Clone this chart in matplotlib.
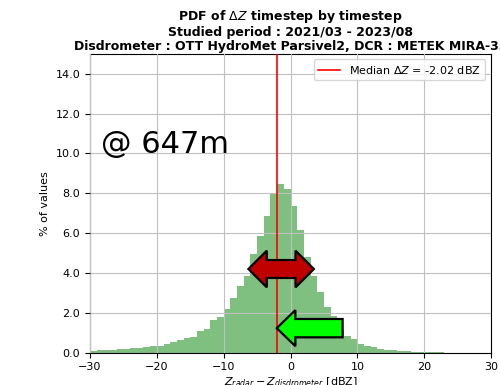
import numpy as np
import matplotlib.pyplot as plt
import matplotlib.patches as mpatches

# histogram of delta Z, 1 dBZ bins from -30 to 30 (% of values)
bin_edges = np.arange(-30, 31, 1)
pct_values = [0.10, 0.11, 0.12, 0.14, 0.16, 0.18, 0.21, 0.25, 0.28, 0.31,
              0.35, 0.42, 0.52, 0.64, 0.75, 0.80, 1.10, 1.17, 1.64, 1.80,
              2.20, 2.73, 3.36, 3.83, 4.96, 5.87, 6.85, 7.98, 8.45, 8.23,
              7.34, 6.15, 4.82, 3.84, 3.03, 2.30, 1.83, 1.16, 0.85, 0.68,
              0.44, 0.34, 0.26, 0.19, 0.15, 0.11, 0.08, 0.06, 0.04, 0.03,
              0.02, 0.01, 0.01, 0.005, 0.0, 0.0, 0.0, 0.0, 0.0, 0.0]
median_dz = -2.02
altitude = '@ 647m'
title = ('PDF of $\\Delta Z$ timestep by timestep\n'
         'Studied period : 2021/03 - 2023/08\n'
         'Disdrometer : OTT HydroMet Parsivel2, DCR : METEK MIRA-35')


def double_arrow(x0, x1, y, shaft_h, head_h, head_l):
    # polygon of a horizontal double headed arrow
    pts = [(x0, y), (x0 + head_l, y + head_h), (x0 + head_l, y + shaft_h),
           (x1 - head_l, y + shaft_h), (x1 - head_l, y + head_h), (x1, y),
           (x1 - head_l, y - head_h), (x1 - head_l, y - shaft_h),
           (x0 + head_l, y - shaft_h), (x0 + head_l, y - head_h)]
    return pts


fig = plt.figure(figsize=(5, 3.85), dpi=100)
ax = fig.add_axes([0.18, 0.084, 0.802, 0.776])

ax.hist(bin_edges[:-1], bins=bin_edges, weights=pct_values,
        color='green', alpha=0.5, zorder=2)
ax.axvline(median_dz, color='red', lw=1.2, zorder=3,
           label='Median $\\Delta Z$ = {:.2f} dBZ'.format(median_dz))

# spread arrow and bias arrow
ax.add_patch(mpatches.Polygon(double_arrow(-6.3, 3.5, 4.2, 0.45, 0.92, 2.75),
                              closed=True, facecolor='#c00000',
                              edgecolor='black', lw=1.6, zorder=5))
ax.add_patch(mpatches.FancyArrow(7.8, 1.23, -9.85, 0, width=0.92,
                                 head_width=1.81, head_length=2.78,
                                 length_includes_head=True,
                                 facecolor='#00ff00', edgecolor='black',
                                 lw=1.6, zorder=5))

ax.text(-28.4, 10.0, altitude, fontsize=22)

ax.set_xlim(-30, 30)
ax.set_ylim(0, 15)
ax.set_xticks(np.arange(-30, 31, 10))
ax.set_yticks(np.arange(0, 15, 2))
ax.set_yticklabels(['{:.1f}'.format(v) for v in np.arange(0, 15, 2)])
ax.tick_params(labelsize=8)
ax.grid(True, color='#c0c0c0', lw=0.8, zorder=1)
ax.set_axisbelow(False)
ax.set_ylabel('% of values', fontsize=8)
ax.set_xlabel('$Z_{radar} - Z_{disdrometer}$ [dBZ]', fontsize=8, labelpad=2)
ax.set_title(title, fontsize=9, fontweight='bold', linespacing=1.1, pad=3)
ax.legend(loc='upper right', fontsize=8)

fig.savefig('out.png', dpi=100)
